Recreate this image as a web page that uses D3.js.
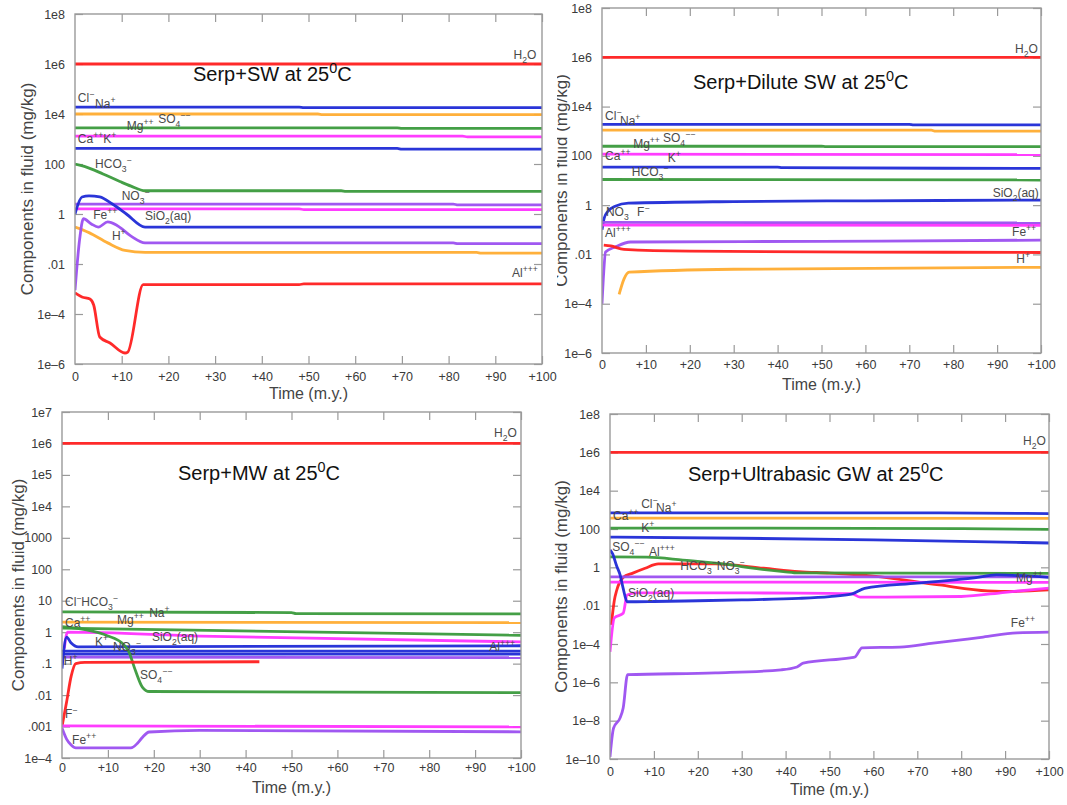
<!DOCTYPE html>
<html>
<head>
<meta charset="utf-8">
<script src="https://cdn.jsdelivr.net/npm/d3@7"></script>
<style>
  body { margin: 0; background: #fff; }
  text { font-family: "Liberation Sans", Arial, Helvetica, sans-serif; }
  .tick text { font-family: "Liberation Sans Narrow", "Liberation Sans", Arial, sans-serif; }
</style>
</head>
<body>
<svg id="fig" width="1067" height="805"></svg>
<script>
// ---------- shared axis values ----------
const timeTicks = [0, 10, 20, 30, 40, 50, 60, 70, 80, 90, 100];
const timeTickLabels = ["0", "+10", "+20", "+30", "+40", "+50", "+60", "+70", "+80", "+90", "+100"];

const concTicksWide = [1e8, 1e6, 1e4, 100, 1, 0.01, 1e-4, 1e-6];
const concLabelsWide = ["1e8", "1e6", "1e4", "100", "1", ".01", "1e–4", "1e–6"];

const concTicksMW = [1e7, 1e6, 1e5, 1e4, 1000, 100, 10, 1, 0.1, 0.01, 0.001, 1e-4];
const concLabelsMW = ["1e7", "1e6", "1e5", "1e4", "1000", "100", "10", "1", ".1", ".01", ".001", "1e–4"];

const concTicksGW = [1e8, 1e6, 1e4, 100, 1, 0.01, 1e-4, 1e-6, 1e-8, 1e-10];
const concLabelsGW = ["1e8", "1e6", "1e4", "100", "1", ".01", "1e–4", "1e–6", "1e–8", "1e–10"];

// ---------- Serp + seawater (time m.y., mg/kg) ----------
const swH2O   = [[0, 1e6], [100, 1e6]];
const swClNa  = [[0, 1.9e4], [48, 1.9e4], [49, 1.8e4], [100, 1.8e4]];
const swSO4   = [[0, 1.0e4], [52, 1.0e4], [53, 9.5e3], [100, 9.5e3]];
const swMg    = [[0, 2800], [69, 2800], [70, 2650], [100, 2650]];
const swCaK   = [[0, 1300], [83, 1300], [84, 1220], [100, 1220]];
const swBlue2 = [[0, 420], [69, 420], [70, 390], [100, 390]];
const swHCO3  = [[0, 100], [2, 80], [6, 40], [9.6, 20], [12, 13], [15, 8.5], [57, 8.5], [58, 8], [100, 8]];
const swNO3   = [[0, 2.5], [81, 2.5], [82, 2.3], [100, 2.3]];
const swMag2  = [[0, 1.6], [48, 1.6], [49, 1.5], [100, 1.5]];
const swSiO2  = [[0, 1.0], [1.5, 4.8], [3, 5.3], [5.3, 4.8], [8, 2.5], [11, 1.0], [15, 0.3], [100, 0.3]];
const swFe    = [[0, 9e-4], [1, 0.1], [1.8, 0.65], [3.5, 0.4], [5, 0.3], [7, 0.48], [9, 0.35], [12, 0.13], [15, 0.07], [81, 0.07], [82, 0.065], [100, 0.065]];
const swH     = [[0, 0.3], [3, 0.18], [7, 0.07], [10.7, 0.035], [15, 0.029], [86, 0.029], [87, 0.027], [100, 0.027]];
const swAl    = [[0, 7e-4], [1.5, 4.8e-4], [3.2, 4.0e-4], [4, 2.3e-4], [5.3, 1.2e-5], [7.5, 6.9e-6], [10.7, 2.75e-6], [11.3, 3e-6], [14.6, 1.5e-3], [48, 1.5e-3], [49, 1.6e-3], [100, 1.6e-3]];

// ---------- Serp + dilute seawater ----------
const dsH2O   = [[0, 1e6], [100, 1e6]];
const dsClNa  = [[0, 1900], [70, 1900], [71, 1800], [100, 1800]];
const dsSO4   = [[0, 1100], [75, 1100], [76, 1000], [100, 1000]];
const dsMg    = [[0, 245], [50, 245], [51, 235], [100, 235]];
const dsCaK   = [[0, 117], [100, 112]];
const dsBlue2 = [[0, 35], [40, 35], [41, 33], [100, 31]];
const dsHCO3  = [[0, 11], [100, 10.5]];
const dsSiO2  = [[0, 0.1], [0.5, 0.3], [1.3, 0.55], [3, 0.9], [6, 1.2], [30, 1.4], [60, 1.5], [100, 1.6]];
const dsNO3   = [[0, 0.2], [100, 0.19]];
const dsF     = [[0, 0.155], [100, 0.15]];
const dsFe    = [[0, 1e-4], [0.4, 2e-3], [0.8, 0.0126], [3, 0.02], [6.5, 0.032], [50, 0.034], [100, 0.038]];
const dsAl    = [[0.4, 0.024], [2, 0.022], [5, 0.016], [20, 0.0135], [60, 0.0125], [100, 0.012]];
const dsH     = [[3.9, 2.4e-4], [5, 1e-3], [6.2, 1.9e-3], [30, 2.5e-3], [100, 3e-3]];

// ---------- Serp + meteoric water ----------
const mwH2O   = [[0, 1e6], [100, 1e6]];
const mwNa    = [[0, 4.4], [50, 4.2], [51, 3.9], [100, 3.8]];
const mwMg    = [[0, 2.1], [100, 2.0]];
const mwCa    = [[0, 1.35], [100, 0.8]];
const mwSiO2  = [[0.5, 0.3], [1.2, 1.0], [30, 0.75], [100, 0.49]];
const mwK     = [[0, 0.07], [1, 0.7], [2, 0.45], [3.5, 0.34], [100, 0.37]];
const mwNO3   = [[0, 0.25], [100, 0.25]];
const mwAl    = [[0, 0.2], [100, 0.2]];
const mwH     = [[0, 0.16], [100, 0.155]];
const mwSO4   = [[0, 1.5], [5, 1.2], [10, 0.76], [13, 0.46], [14.5, 0.25], [16, 0.06], [17.5, 0.018], [19, 0.013], [100, 0.012]];
const mwF     = [[0, 0.001], [1, 0.006], [2, 0.04], [3, 0.1], [5, 0.11], [43, 0.115]];
const mwMag2  = [[0, 0.00105], [100, 0.00098]];
const mwFe    = [[0, 9e-4], [1, 4e-4], [2, 2.6e-4], [3, 2.1e-4], [15, 2.1e-4], [16.5, 3e-4], [17.5, 4.5e-4], [19, 6.7e-4], [30, 7.6e-4], [100, 6.8e-4]];

// ---------- Serp + ultrabasic groundwater ----------
const gwH2O   = [[0, 1e6], [100, 1e6]];
const gwClNa  = [[0, 690], [75, 690], [100, 640]];
const gwCa    = [[0, 370], [100, 360]];
const gwK     = [[0, 112], [80, 105], [100, 95]];
const gwBlue2 = [[0, 38], [30, 33], [60, 27], [100, 18.6]];
const gwHCO3  = [[0, 3.5], [8.4, 3.4], [16.6, 2.4], [28, 1.3], [32, 0.93], [39.5, 0.6], [43, 0.51], [100, 0.48]];
const gwPurp  = [[0, 0.32], [100, 0.32]];
const gwMag2  = [[0, 0.17], [100, 0.165]];
const gwAl    = [[0.3, 1e-3], [1, 0.02], [1.5, 0.06], [3, 0.3], [5.2, 0.5], [8, 0.9], [11, 1.5], [24, 1.5], [35, 0.9], [43, 0.6], [50, 0.5], [60, 0.35], [75, 0.12], [86, 0.059], [92, 0.055], [100, 0.066]];
const gwSiO2  = [[0, 3.9e-5], [1, 2.3e-3], [3, 4e-3], [3.9, 0.036], [6, 0.047], [43, 0.045], [55, 0.042], [57, 0.028], [80, 0.03], [90, 0.05], [100, 0.083]];
const gwSO4   = [[0, 8], [0.6, 5], [1.5, 1.2], [2.3, 0.4], [3, 0.08], [3.9, 0.016], [10, 0.0165], [20, 0.018], [30, 0.02], [43, 0.024], [50, 0.03], [55, 0.04], [58, 0.08], [70, 0.15], [83, 0.28], [88, 0.4], [100, 0.3]];
const gwFe    = [[0, 1.3e-10], [0.8, 4e-9], [2.3, 1.4e-8], [3, 4.6e-8], [4, 2.5e-6], [24, 3.1e-6], [39, 4.5e-6], [42.6, 6.3e-6], [44, 1e-5], [54.7, 1.9e-5], [55.8, 2.1e-5], [57.4, 6.3e-5], [66, 6.9e-5], [73.6, 1.1e-4], [85, 2.3e-4], [92.7, 3.8e-4], [100, 4.2e-4]];

// ---------- colours ----------
const RED = "#ff1f1f", BLUE = "#1f2ad6", ORANGE = "#ffac30", GREEN = "#3a9a3c", MAGENTA = "#ff33ff", PURPLE = "#9b4ff0";

// ---------- panel layout ----------
const panels = [
  {
    x0: 75, x1: 542, yTop: 14, yBot: 364, yMin: 1e-6, yMax: 1e8,
    yTicks: concTicksWide, yLabels: concLabelsWide, xPad: 8,
    title: "Serp+SW at 25^0C", titleX: 193, titleY: 81,
    yTitleX: 33, timeY: 399,
    series: [[swH2O, RED], [swClNa, BLUE], [swSO4, ORANGE], [swMg, GREEN], [swCaK, MAGENTA], [swBlue2, BLUE],
             [swHCO3, GREEN], [swNO3, PURPLE], [swMag2, MAGENTA], [swH, ORANGE], [swSiO2, BLUE], [swFe, PURPLE], [swAl, RED]],
    labels: [["H_2O", 98.8, 1.58e6, "end"], ["Cl^-", 0.6, 3.0e4], ["Na^+", 4.3, 1.74e4], ["Mg^++", 11.1, 2290],
             ["SO_4^--", 17.8, 4365], ["Ca^++K^+", 0.6, 692], ["HCO_3^-", 4.3, 69], ["NO_3^-", 10, 3.6],
             ["Fe^++", 3.9, 0.63], ["SiO_2(aq)", 15, 0.575], ["H^+", 7.9, 0.091], ["Al^+++", 99.1, 3.0e-3, "end"]]
  },
  {
    x0: 602, x1: 1041, yTop: 8, yBot: 353, yMin: 1e-6, yMax: 1e8,
    yTicks: concTicksWide, yLabels: concLabelsWide, xPad: 7,
    title: "Serp+Dilute SW at 25^0C", titleX: 693, titleY: 89,
    yTitleX: 567, yTitleClip: 557, timeY: 390,
    series: [[dsH2O, RED], [dsClNa, BLUE], [dsSO4, ORANGE], [dsMg, GREEN], [dsCaK, MAGENTA], [dsBlue2, BLUE],
             [dsHCO3, GREEN], [dsSiO2, BLUE], [dsNO3, PURPLE], [dsF, MAGENTA], [dsFe, PURPLE], [dsAl, RED], [dsH, ORANGE]],
    labels: [["H_2O", 99.3, 1.5e6, "end"], ["Cl^-", 0.7, 2880], ["Na^+", 4.1, 1820], ["Mg^++", 7.1, 214],
             ["SO_4^--", 13.9, 372], ["Ca^++", 0.7, 69], ["K^+", 15, 57.5], ["HCO_3^-", 6.8, 15.5],
             ["SiO_2(aq)", 99.5, 2.19, "end"], ["NO_3", 0.9, 0.37], ["F^-", 8, 0.37], ["Al^+++", 0.7, 0.052],
             ["Fe^++", 98.9, 0.0575, "end"], ["H^+", 97.5, 4.6e-3, "end"]]
  },
  {
    x0: 62, x1: 521, yTop: 412, yBot: 758, yMin: 1e-4, yMax: 1e7,
    yTicks: concTicksMW, yLabels: concLabelsMW, xPad: 5,
    title: "Serp+MW at 25^0C", titleX: 178, titleY: 480,
    yTitleX: 24, timeY: 793,
    series: [[mwH2O, RED], [mwNa, GREEN], [mwMg, ORANGE], [mwCa, GREEN], [mwSiO2, MAGENTA], [mwNO3, BLUE],
             [mwAl, BLUE], [mwH, PURPLE], [mwK, BLUE], [mwSO4, GREEN], [mwF, RED], [mwMag2, MAGENTA], [mwFe, PURPLE]],
    labels: [["H_2O", 99.1, 1.58e6, "end"], ["Cl^-HCO_3^-", 0.65, 6.8], ["Mg^++", 12, 1.82], ["Na^+", 19, 3.0],
             ["Ca^++", 0.65, 1.45], ["SiO_2(aq)", 19.6, 0.52], ["K^+", 7.2, 0.36], ["NO_3^-", 11.1, 0.25],
             ["H^+", 0.4, 0.091], ["SO_4^--", 17, 0.032], ["F^-", 0.65, 1.9e-3], ["Fe^++", 2.2, 2.75e-4],
             ["Al^+++", 98.7, 0.25, "end"]]
  },
  {
    x0: 610, x1: 1049, yTop: 414, yBot: 759, yMin: 1e-10, yMax: 1e8,
    yTicks: concTicksGW, yLabels: concLabelsGW, xPad: 8,
    title: "Serp+Ultrabasic GW at 25^0C", titleX: 688, titleY: 481,
    yTitleX: 567, timeY: 795,
    series: [[gwH2O, RED], [gwClNa, BLUE], [gwCa, ORANGE], [gwK, GREEN], [gwBlue2, BLUE], [gwAl, RED],
             [gwHCO3, GREEN], [gwPurp, PURPLE], [gwMag2, MAGENTA], [gwSiO2, MAGENTA], [gwSO4, BLUE], [gwFe, PURPLE]],
    labels: [["H_2O", 99.3, 2.4e6, "end"], ["Cl^-", 7.1, 1260], ["Na^+", 10.5, 776], ["Ca^++", 0.7, 295],
             ["K^+", 7.1, 69], ["SO_4^--", 0.5, 7.1], ["Al^+++", 8.9, 3.9], ["HCO_3^-NO_3^-", 16, 0.72],
             ["SiO_2(aq)", 4.1, 0.028], ["Mg^++", 98.6, 0.174, "end"], ["Fe^++", 96.8, 7.8e-4, "end"]]
  }
];

// ---------- helpers ----------
// Writes a label with simple sub/superscript markup: "_x" subscript one char, "^+++" / "^-" / "^0" superscript.
function richText(sel, markup, size) {
  const segs = [];
  let i = 0;
  while (i < markup.length) {
    const c = markup[i];
    if (c === "_") { segs.push({ t: markup[i + 1], m: "sub" }); i += 2; }
    else if (c === "^") {
      let j = i + 1;
      if (/\d/.test(markup[j])) { segs.push({ t: markup[j], m: "sup" }); i = j + 1; }
      else {
        let s = "";
        while (j < markup.length && "+-".includes(markup[j])) { s += markup[j]; j++; }
        segs.push({ t: s.replace(/-/g, "\u2212"), m: "sup" });
        i = j;
      }
    } else {
      let s = "";
      while (i < markup.length && markup[i] !== "_" && markup[i] !== "^") { s += markup[i]; i++; }
      segs.push({ t: s, m: "n" });
    }
  }
  let cur = 0;
  segs.forEach(s => {
    const target = s.m === "sub" ? 0.32 * size : s.m === "sup" ? -0.42 * size : 0;
    sel.append("tspan")
      .attr("dy", target - cur)
      .attr("font-size", s.m === "n" ? size : size * 0.72)
      .text(s.t);
    cur = target;
  });
}

const svg = d3.select("#fig");
const FRAME = "#9a9a9a";

panels.forEach((p, idx) => {
  const x = d3.scaleLinear().domain([0, 100]).range([p.x0, p.x1]);
  const y = d3.scaleLog().domain([p.yMin, p.yMax]).range([p.yBot, p.yTop]);
  const g = svg.append("g");

  const clipId = "clip" + idx;
  svg.append("clipPath").attr("id", clipId)
    .append("rect").attr("x", p.x0).attr("y", p.yTop).attr("width", p.x1 - p.x0).attr("height", p.yBot - p.yTop);

  // axes: ticks point inward on all four sides
  const styleAxis = a => {
    a.select(".domain").remove();
    a.selectAll(".tick line").attr("stroke", FRAME).attr("stroke-width", 1.2);
    a.selectAll(".tick text").attr("fill", "#3a3a3a").attr("font-size", 12.5);
  };
  g.append("g").attr("transform", `translate(${p.x0},0)`)
    .call(d3.axisLeft(y).tickValues(p.yTicks).tickFormat((d, i) => p.yLabels[i]).tickSizeInner(-8).tickSizeOuter(0).tickPadding(10))
    .call(styleAxis);
  g.append("g").attr("transform", `translate(${p.x1},0)`)
    .call(d3.axisRight(y).tickValues(p.yTicks).tickFormat("").tickSizeInner(-8).tickSizeOuter(0))
    .call(styleAxis);
  g.append("g").attr("transform", `translate(0,${p.yBot})`)
    .call(d3.axisBottom(x).tickValues(timeTicks).tickFormat((d, i) => timeTickLabels[i]).tickSizeInner(-8).tickSizeOuter(0).tickPadding(p.xPad))
    .call(styleAxis);
  g.append("g").attr("transform", `translate(0,${p.yTop})`)
    .call(d3.axisTop(x).tickValues(timeTicks).tickFormat("").tickSizeInner(-8).tickSizeOuter(0))
    .call(styleAxis);
  // first x tick sits on the frame; hide the inward tick stubs at the corners
  g.selectAll(".tick").filter(d => d === 0).select("line").attr("stroke-opacity", 0);

  // series lines
  const line = d3.line().x(d => x(d[0])).y(d => y(d[1])).curve(d3.curveMonotoneX);
  const lines = g.append("g").attr("clip-path", `url(#${clipId})`);
  p.series.forEach(([pts, col]) => {
    lines.append("path").datum(pts)
      .attr("d", line)
      .attr("fill", "none")
      .attr("stroke", col)
      .attr("stroke-width", 2.8)
      .attr("stroke-linejoin", "round")
      .attr("stroke-linecap", "butt")
      .attr("stroke-opacity", 0.95);
  });

  // frame
  g.append("rect").attr("x", p.x0).attr("y", p.yTop).attr("width", p.x1 - p.x0).attr("height", p.yBot - p.yTop)
    .attr("fill", "none").attr("stroke", FRAME).attr("stroke-width", 1.4);

  // species labels
  p.labels.forEach(([txt, t, v, anchor]) => {
    const tx = g.append("text")
      .attr("x", x(t)).attr("y", y(v))
      .attr("fill", "#4a4a4a")
      .attr("text-anchor", anchor || "start");
    richText(tx, txt, 12);
  });

  // panel title
  const title = g.append("text").attr("x", p.titleX).attr("y", p.titleY).attr("fill", "#111");
  richText(title, p.title, 20);

  // axis titles
  g.append("text")
    .attr("x", (p.x0 + p.x1) / 2).attr("y", p.timeY)
    .attr("text-anchor", "middle").attr("font-size", 16).attr("fill", "#444")
    .text("Time (m.y.)");

  // y title sits in an untransformed group so that an optional clip works in page coordinates
  const yTitleG = g.append("g");
  if (p.yTitleClip) {
    svg.append("clipPath").attr("id", "yclip" + idx)
      .append("rect").attr("x", p.yTitleClip).attr("y", 0).attr("width", 40).attr("height", 400);
    yTitleG.attr("clip-path", `url(#yclip${idx})`);
  }
  yTitleG.append("text")
    .attr("transform", `translate(${p.yTitleX},${(p.yTop + p.yBot) / 2}) rotate(-90)`)
    .attr("text-anchor", "middle").attr("font-size", 17).attr("fill", "#444")
    .text("Components in fluid (mg/kg)");
});
</script>
</body>
</html>
